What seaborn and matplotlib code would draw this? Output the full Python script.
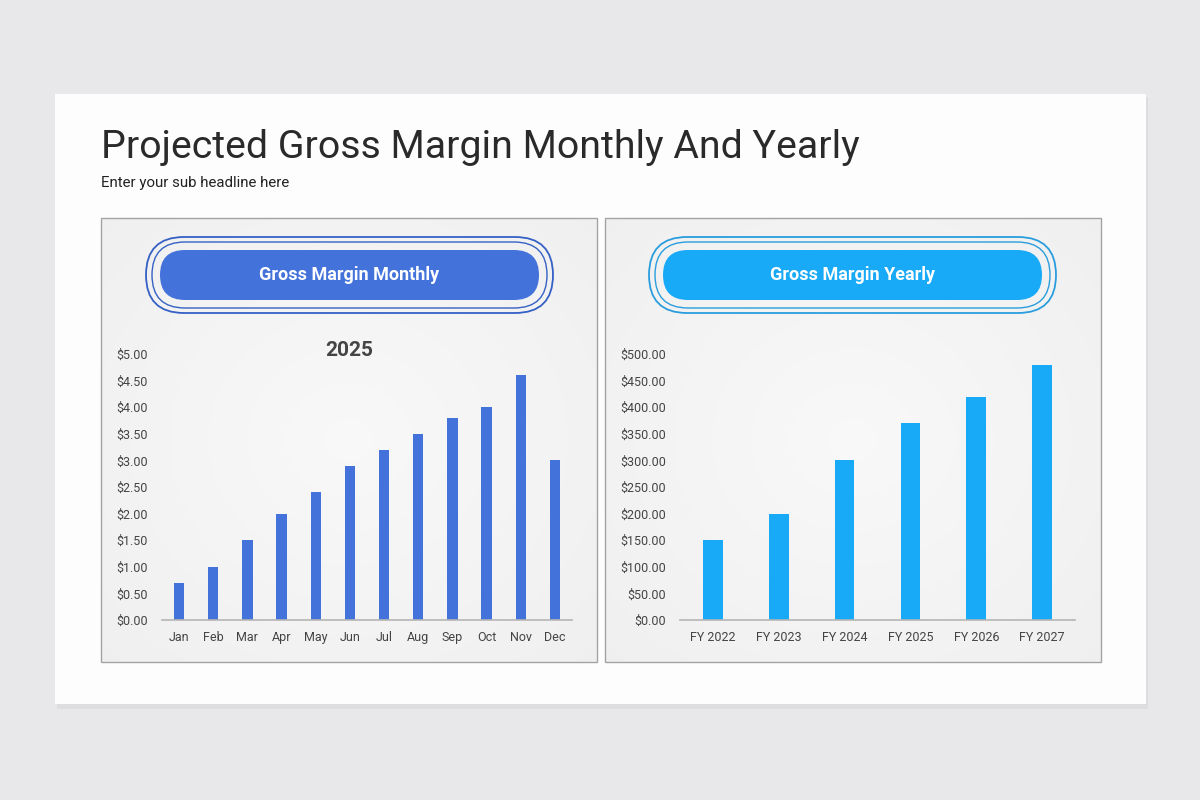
import matplotlib
matplotlib.use("Agg")
import matplotlib.pyplot as plt
import seaborn as sns
import numpy as np
import pandas as pd
from matplotlib.patches import FancyBboxPatch, Rectangle
from matplotlib.ticker import FuncFormatter

# dados
meses = ["Jan", "Feb", "Mar", "Apr", "May", "Jun", "Jul", "Aug", "Sep", "Oct", "Nov", "Dec"]
margem_mensal = [0.7, 1.0, 1.5, 2.0, 2.4, 2.9, 3.2, 3.5, 3.8, 4.0, 4.6, 3.0]
anos = ["FY 2022", "FY 2023", "FY 2024", "FY 2025", "FY 2026", "FY 2027"]
margem_anual = [150, 200, 300, 370, 420, 480]

titulo = "Projected Gross Margin Monthly And Yearly"
subtitulo = "Enter your sub headline here"

cor_mensal = "#4472db"
cor_anual = "#19aaf7"
anel_mensal = "#3560c4"
anel_anual = "#2a9ddd"

sns.set_style("white")
plt.rcParams["font.family"] = ["Roboto", "DejaVu Sans"]

fig = plt.figure(figsize=(12, 8), dpi=100)
fig.patch.set_facecolor("#e8e7e9")

# camada de fundo em pixels
bg = fig.add_axes([0, 0, 1, 1])
bg.set_xlim(0, 1200)
bg.set_ylim(800, 0)
bg.axis("off")

# cartão branco com sombra
bg.add_patch(Rectangle((57, 97), 1091, 612, facecolor="#d6d5d7", edgecolor="none", alpha=0.6))
bg.add_patch(Rectangle((55, 94), 1091, 610, facecolor="#fdfdfd", edgecolor="none"))

bg.text(101, 158, titulo, fontsize=28.3, color="#2a2a2a", va="baseline", ha="left")
bg.text(101, 183, subtitulo, fontsize=10.8, color="#222222", va="center", ha="left")

# painéis com leve degradê radial (rgb direto, sem bandas)
yy, xx = np.mgrid[-1:1:444j, -1:1:496j]
dist = np.clip(np.sqrt(xx ** 2 + yy ** 2) / 1.4, 0, 1)
tom = 0.975 - 0.035 * dist
img = np.dstack([tom, tom, tom])
for x0 in (101, 605):
    bg.imshow(img, extent=(x0, x0 + 496, 662, 218), aspect="auto", zorder=1,
              interpolation="bilinear")
    bg.add_patch(Rectangle((x0, 218), 496, 444, facecolor="none", edgecolor="#a3a3a3", lw=1, zorder=2))


def pilula(cx, texto, cor, cor_anel):
    # aneis externos
    for (w, h, lw) in [(407, 76, 1.3), (395, 66, 1.0)]:
        bg.add_patch(FancyBboxPatch((cx - w / 2 + h / 2, 275), w - h, 0,
                                    boxstyle="round,pad=%s" % (h / 2),
                                    facecolor="none", edgecolor=cor_anel, lw=lw, zorder=3))
    w, h = 379, 50
    bg.add_patch(FancyBboxPatch((cx - w / 2 + h / 2, 275), w - h, 0,
                                boxstyle="round,pad=%s" % (h / 2),
                                facecolor=cor, edgecolor="none", zorder=3))
    bg.text(cx, 275, texto, fontsize=13, color="white", fontweight="bold",
            ha="center", va="center", zorder=4)


pilula(349.5, "Gross Margin Monthly", cor_mensal, anel_mensal)
pilula(852.5, "Gross Margin Yearly", cor_anual, anel_anual)

bg.text(349, 351, "2025", fontsize=15, color="#444444", fontweight="bold",
        ha="center", va="center", zorder=4)


def eixo(px0, px1, py0, py1):
    return fig.add_axes([px0 / 1200, 1 - py1 / 800, (px1 - px0) / 1200, (py1 - py0) / 800])


def estilo(ax, fmt):
    ax.patch.set_alpha(0)
    for s in ["top", "right", "left"]:
        ax.spines[s].set_visible(False)
    ax.spines["bottom"].set_color("#b5b5b5")
    ax.spines["bottom"].set_linewidth(1.2)
    ax.tick_params(axis="both", length=0, labelsize=9, colors="#444444")
    ax.tick_params(axis="y", pad=10)
    ax.tick_params(axis="x", pad=8)
    ax.yaxis.set_major_formatter(FuncFormatter(fmt))
    ax.set_xlabel("")
    ax.set_ylabel("")


# gráfico mensal
df_m = pd.DataFrame({"mes": meses, "valor": margem_mensal})
ax1 = eixo(162, 572, 354, 620)
sns.barplot(data=df_m, x="mes", y="valor", color=cor_mensal, width=0.3, saturation=1,
            linewidth=0, ax=ax1)
ax1.set_ylim(0, 5)
ax1.set_xlim(-0.5, 11.5)
ax1.set_yticks([i * 0.5 for i in range(11)])
estilo(ax1, lambda v, p: "${:.2f}".format(v))

# gráfico anual
df_a = pd.DataFrame({"ano": anos, "valor": margem_anual})
ax2 = eixo(680, 1075, 354, 620)
sns.barplot(data=df_a, x="ano", y="valor", color=cor_anual, width=0.3, saturation=1,
            linewidth=0, ax=ax2)
ax2.set_ylim(0, 500)
ax2.set_xlim(-0.5, 5.5)
ax2.set_yticks(range(0, 501, 50))
estilo(ax2, lambda v, p: "${:,.2f}".format(v))

fig.savefig("out.png", dpi=100, facecolor=fig.get_facecolor())
